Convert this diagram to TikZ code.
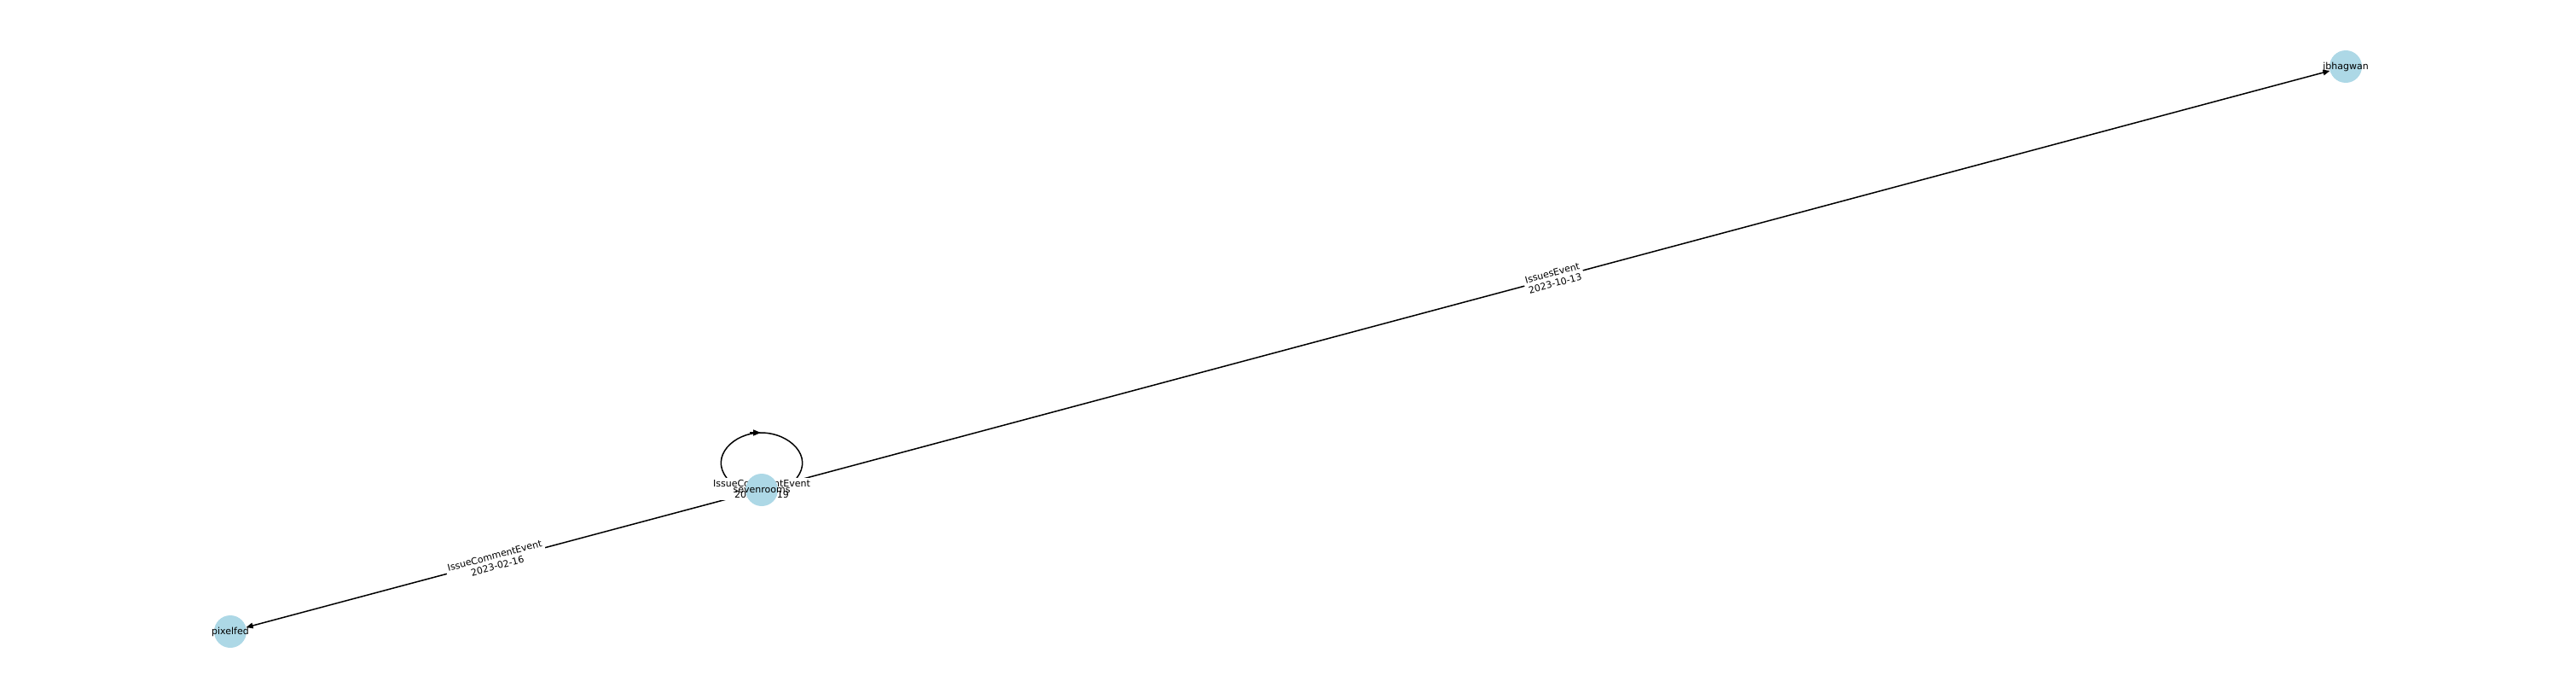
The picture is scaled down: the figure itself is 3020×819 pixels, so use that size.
\documentclass[tikz,border=0pt]{standalone}
\usepackage{fontspec}
\setmainfont{DejaVu Sans}
\usetikzlibrary{arrows.meta,calc}
\definecolor{nodeblue}{HTML}{ADD8E6}
\pgfdeclarelayer{edges}
\pgfsetlayers{edges,main}
\begin{document}
\begin{tikzpicture}[x=1pt,y=-1pt,
  vtx/.style={circle, fill=nodeblue, draw=none, minimum size=38pt, inner sep=0pt},
  vlab/.style={font=\fontsize{11}{13}\selectfont, inner sep=0pt},
  elab/.style={font=\fontsize{11}{12.5}\selectfont, fill=white, inner sep=2.5pt, align=center, rounded corners=2pt},
  edgeline/.style={line width=1.5pt, -{Triangle[length=8pt,width=6.5pt]}},
  loopline/.style={line width=1.5pt}]
\useasboundingbox (0,0) rectangle (3020,819);
\node[vtx] (sr) at (893,574) {};
\node[vtx] (jb) at (2750,78) {};
\node[vtx] (pf) at (270,740) {};
\node[vlab] (srl) at (sr) {sevenrooms};
\node[vlab] (jbl) at (jb) {jbhagwan};
\node[vlab] (pfl) at (pf) {pixelfed};
\begin{pgfonlayer}{edges}
\draw[edgeline] (sr) -- node[elab, sloped] (l1) {IssuesEvent\\2023-10-13} (jb);
\draw[edgeline] (sr) -- node[elab, sloped] (l2) {IssueCommentEvent\\2023-02-16} (pf);
\coordinate (la) at ($(sr)+(-41,-14)$);
\coordinate (lt) at ($(sr)+(-1,-67)$);
\coordinate (lb) at ($(sr)+(41,-14)$);
\draw[loopline] (la) .. controls ($(sr)+(-61,-39)$) and ($(sr)+(-33,-67)$) .. (lt);
\draw[loopline] (lt) .. controls ($(sr)+(33,-67)$) and ($(sr)+(61,-39)$) .. (lb);
\draw[loopline, -{Triangle[length=9pt,width=7pt]}] ($(sr)+(-14,-67)$) -- (lt);
\node[elab] (l3) at ($(sr)+(0,-1)$) {IssueCommentEvent\\2023-05-19};
\end{pgfonlayer}
\end{tikzpicture}
\end{document}
